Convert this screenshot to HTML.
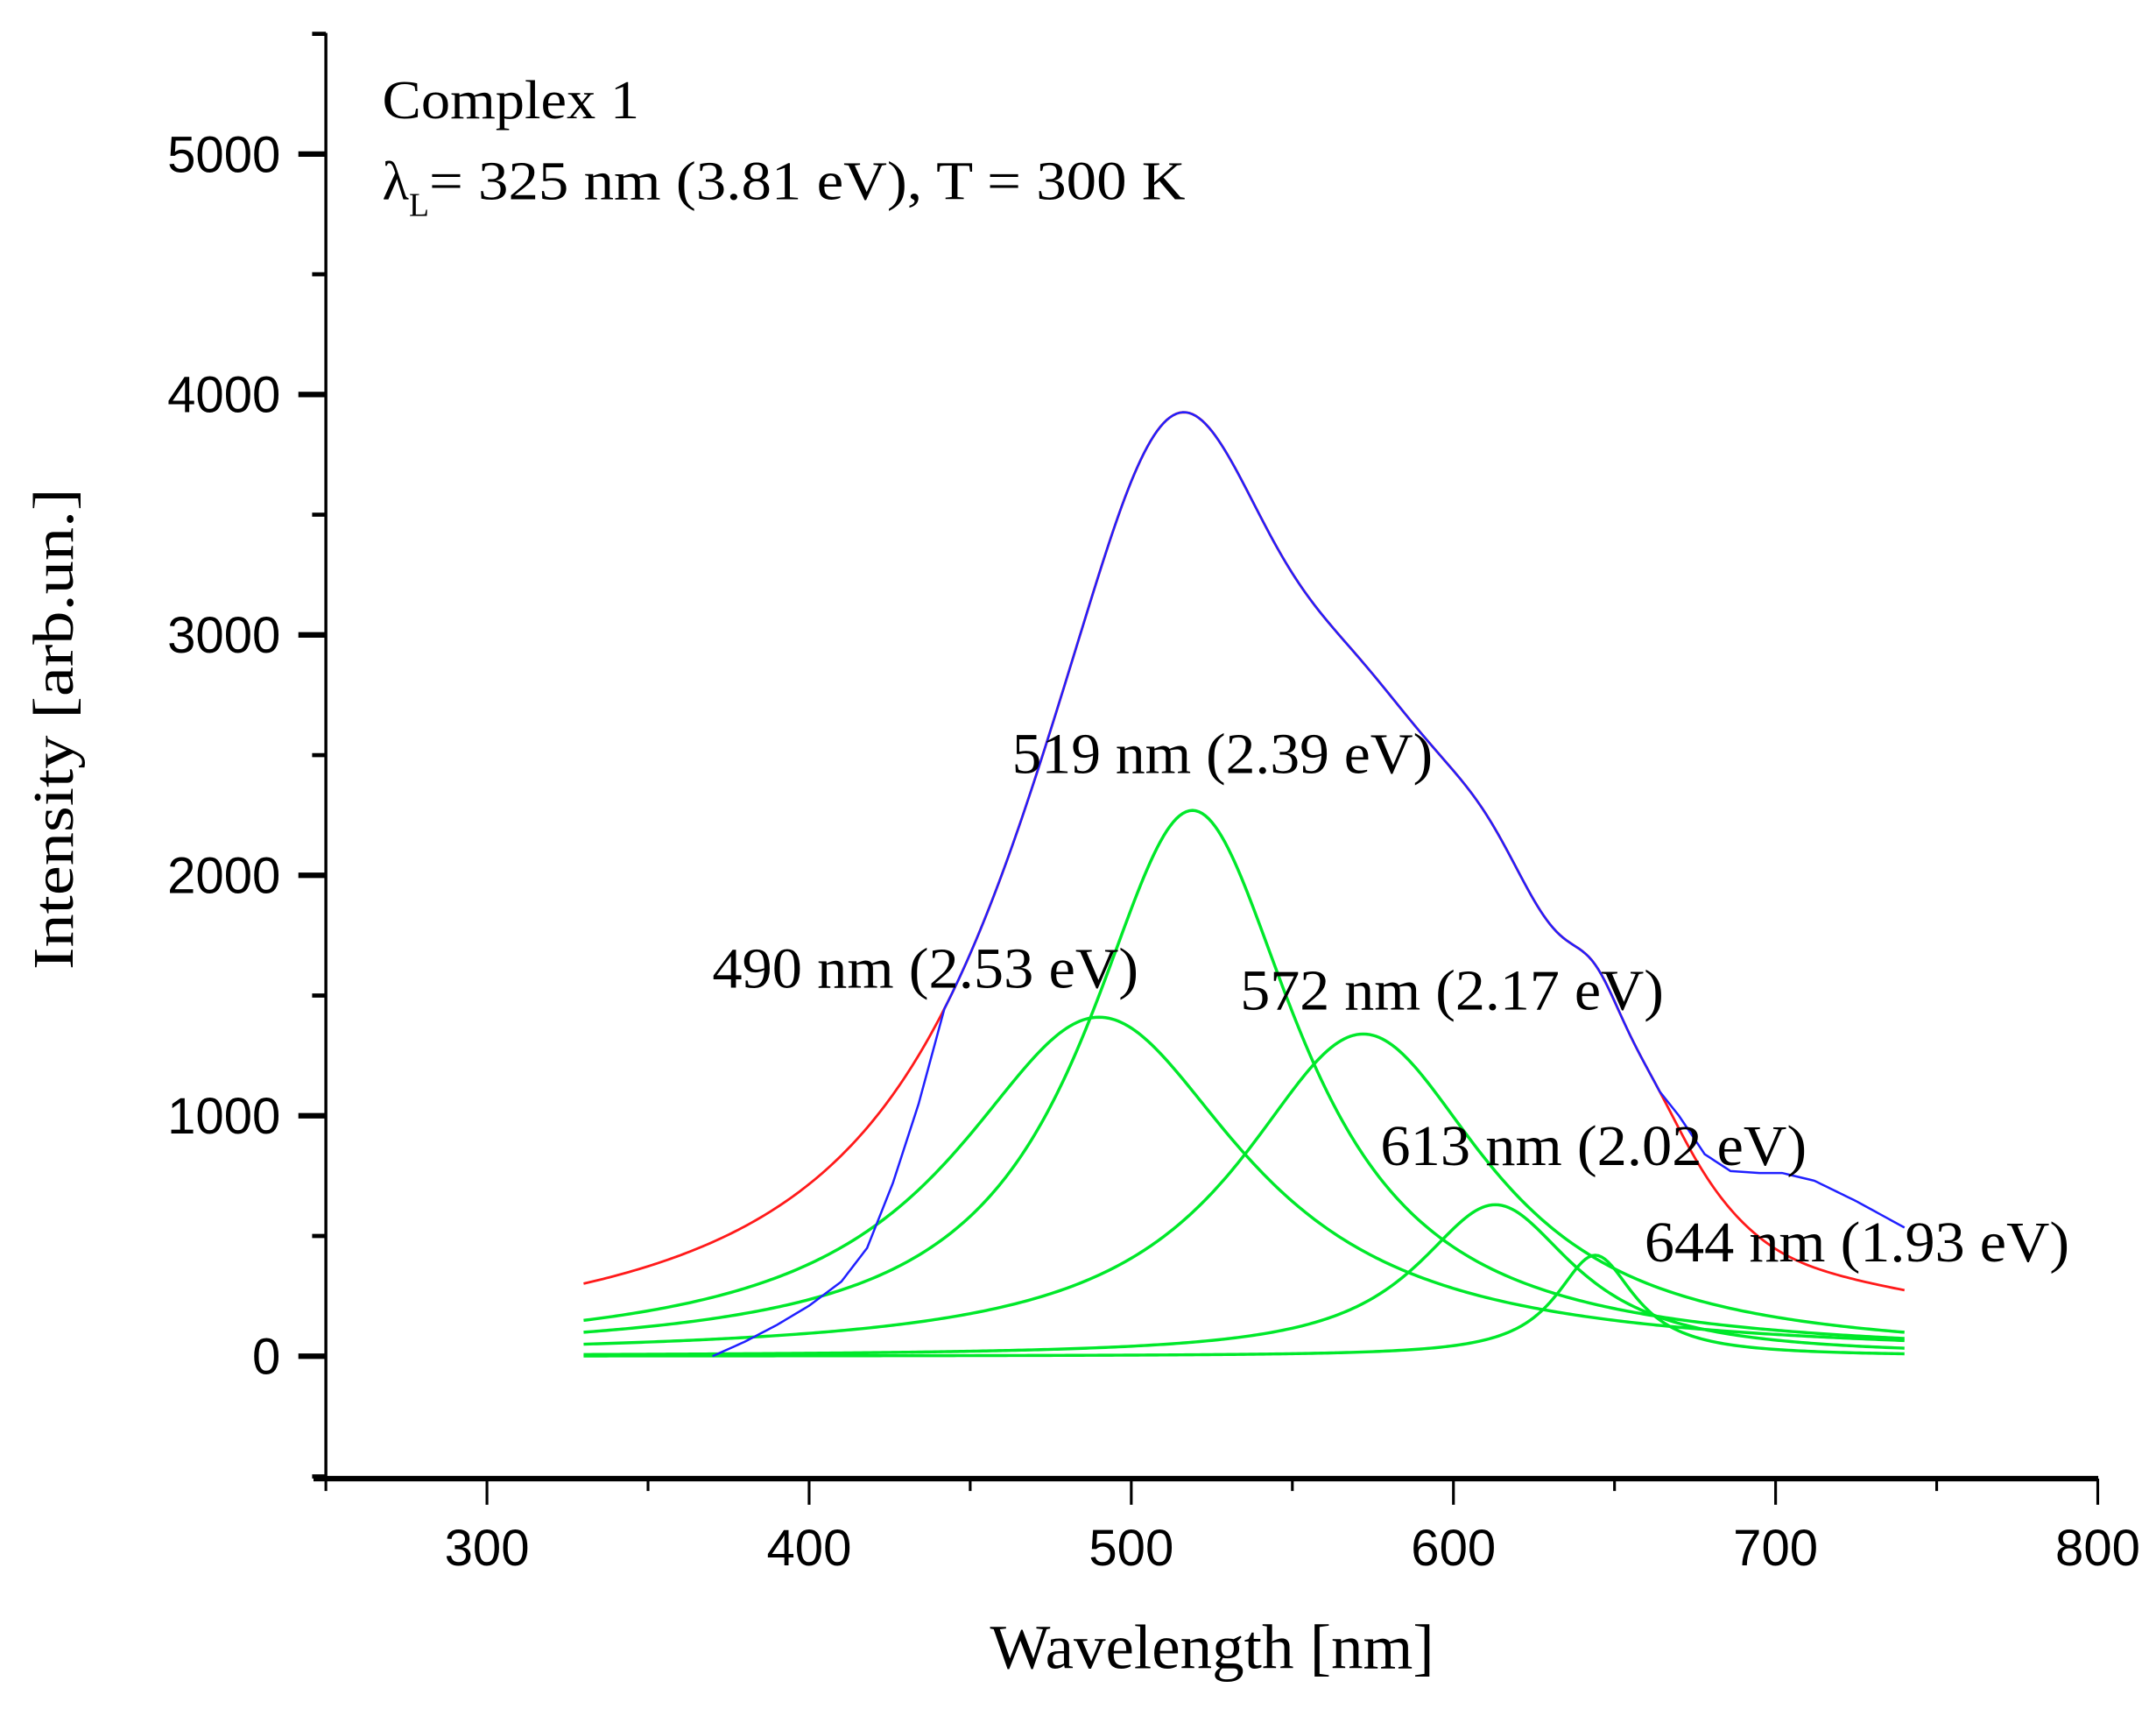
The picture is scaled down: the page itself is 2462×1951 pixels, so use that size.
<!DOCTYPE html>
<html><head><meta charset="utf-8"><style>
html,body{margin:0;padding:0;background:#fff;}
svg{display:block;}
</style></head><body>
<svg id="s" xmlns="http://www.w3.org/2000/svg" width="2462" height="1951" viewBox="0 0 1568 1242.5" preserveAspectRatio="none">
<rect width="1568" height="1242.5" fill="#fff"/>
<g id="curves" fill="none" stroke-width="2"></g>
<g id="axes" stroke="#000" fill="none"></g>
<g font-family="Liberation Sans, Arial, sans-serif" font-size="37" fill="#000" id="ylab" text-anchor="end"></g>
<g font-family="Liberation Sans, Arial, sans-serif" font-size="37" fill="#000" id="xlab" text-anchor="middle"></g>
<g font-family="Liberation Serif, Times New Roman, serif" fill="#000">
<text x="278" y="86" font-size="40" textLength="187" lengthAdjust="spacingAndGlyphs">Complex 1</text>
<text x="278" y="145" font-size="40">λ<tspan font-size="24" dy="12">L</tspan><tspan dy="-12" textLength="550" lengthAdjust="spacingAndGlyphs">= 325 nm (3.81 eV), T = 300 K</tspan></text>
<text x="736" y="562" font-size="42" textLength="306" lengthAdjust="spacingAndGlyphs">519 nm (2.39 eV)</text>
<text x="518" y="718" font-size="42" textLength="310" lengthAdjust="spacingAndGlyphs">490 nm (2.53 eV)</text>
<text x="902" y="734" font-size="42" textLength="308" lengthAdjust="spacingAndGlyphs">572 nm (2.17 eV)</text>
<text x="1004" y="847" font-size="42" textLength="310" lengthAdjust="spacingAndGlyphs">613 nm (2.02 eV)</text>
<text x="1196" y="917" font-size="42" textLength="309" lengthAdjust="spacingAndGlyphs">644 nm (1.93 eV)</text>
<text x="720" y="1213" font-size="46" textLength="323" lengthAdjust="spacingAndGlyphs">Wavelength [nm]</text>
<text transform="translate(53,705) rotate(-90)" font-size="42" textLength="350" lengthAdjust="spacingAndGlyphs">Intensity [arb.un.]</text>
</g>
</svg>
<script>
var NS="http://www.w3.org/2000/svg";
function X(w){return 237+(w-250)*2.343;}
function Y(v){return 986-v*0.1748;}
var peaks=[[490,1410,55],[519,2270,40.5],[572,1340,47.6],[613,630,30],[644,420,15]];
function L(p,x){return p[1]/(1+Math.pow((x-p[0])/p[2],2));}
function red(x){var s=0;for(var i=0;i<peaks.length;i++)s+=L(peaks[i],x);s=s*0.975;s+=L([600,180,35],x)-L([525,90,22],x)+L([500,70,20],x)+L([663,220,18],x)-L([700,60,30],x);return s;}
var cg=document.getElementById('curves');
function path(fn,a,b,col,w){var d='';for(var x=a;x<=b+1e-9;x+=1){d+=(d?'L':'M')+X(x).toFixed(2)+','+Y(fn(x)).toFixed(2);}
var p=document.createElementNS(NS,'path');p.setAttribute('d',d);p.setAttribute('stroke',col);p.setAttribute('stroke-width',w||2);cg.appendChild(p);}
peaks.forEach(function(p){path(function(x){return L(p,x);},330,740,'#00e82a',2.2);});
path(red,330,740,'#ff1a1a',1.8);
var bl=[[370,0],[380,60],[390,130],[400,210],[410,310],[418,450],[426,720],[434,1050],[442,red(442)]];
var br=[[664,red(664)],[670,1000],[678,840],[686,770],[695,762],[702,762],[712,730],[725,645],[740,535]];
function interp(pts,x){for(var i=0;i<pts.length-1;i++){if(x>=pts[i][0]&&x<=pts[i+1][0]){var t=(x-pts[i][0])/(pts[i+1][0]-pts[i][0]);return pts[i][1]+t*(pts[i+1][1]-pts[i][1]);}}return pts[pts.length-1][1];}
function blue(x){if(x<442)return interp(bl,x);if(x>664)return interp(br,x);return red(x);}
path(blue,370,740,'#2020ff',1.6);
var ax=document.getElementById('axes');
function line(x1,y1,x2,y2,w){var l=document.createElementNS(NS,'line');l.setAttribute('x1',x1);l.setAttribute('y1',y1);l.setAttribute('x2',x2);l.setAttribute('y2',y2);l.setAttribute('stroke-width',w);ax.appendChild(l);}
line(237,24,237,1075,2.2);
line(228,1075,1526,1075,4);
for(var v=-500;v<=5500;v+=500){var y=Y(v);var major=(v%1000===0);line(major?217:227,y,237,y,major?4:3);}
for(var w=250;w<=800;w+=50){var x=X(w);var major=(w%100===0);line(x,1075,x,major?1094:1084,2);}
var yl=document.getElementById('ylab');
for(var v=0;v<=5000;v+=1000){var t=document.createElementNS(NS,'text');t.setAttribute('x',204);t.setAttribute('y',Y(v)+13);t.textContent=v;yl.appendChild(t);}
var xl=document.getElementById('xlab');
for(var w=300;w<=800;w+=100){var t=document.createElementNS(NS,'text');t.setAttribute('x',X(w));t.setAttribute('y',1138);t.textContent=w;xl.appendChild(t);}
</script>
</body></html>
